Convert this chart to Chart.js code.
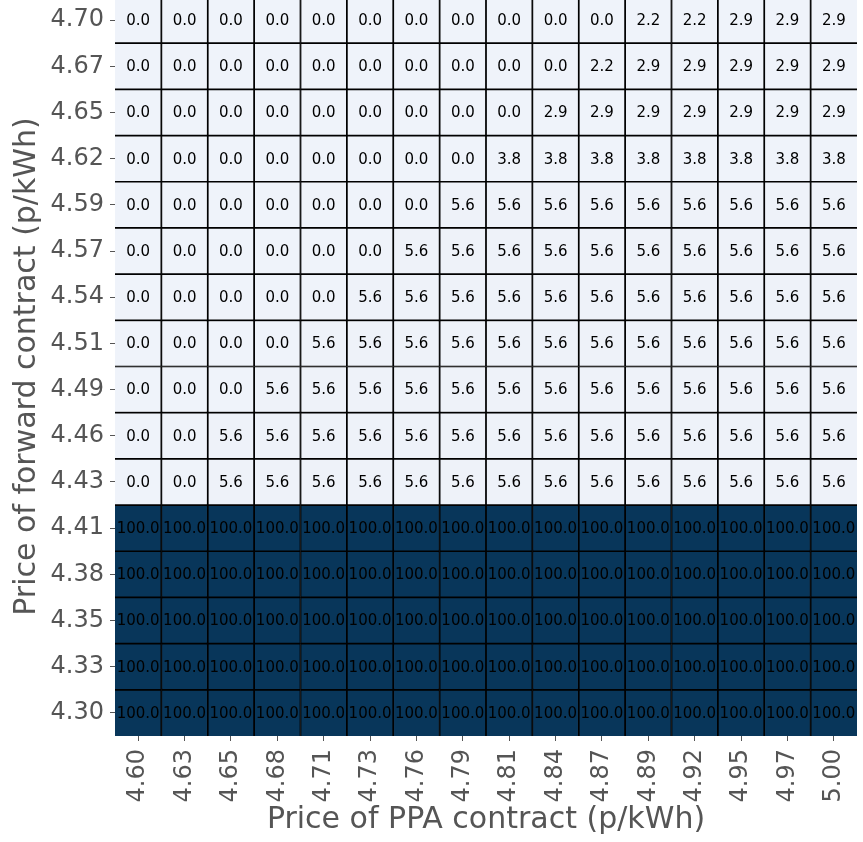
<!DOCTYPE html>
<html>
<head>
<meta charset="utf-8">
<script src="https://cdn.jsdelivr.net/npm/chart.js@4/dist/chart.umd.min.js"></script>
<style>
  html, body { margin: 0; padding: 0; background: #fff; overflow: hidden; }
  #wrap { position: absolute; left: 0; top: -3px; width: 863px; height: 845px; }
</style>
</head>
<body>
<div id="wrap"><canvas id="heat"></canvas></div>
<script>
// x axis: PPA contract price (p/kWh)
const ppaPrices = ['4.60', '4.63', '4.65', '4.68', '4.71', '4.73', '4.76', '4.79',
                   '4.81', '4.84', '4.87', '4.89', '4.92', '4.95', '4.97', '5.00'];
// y axis: forward contract price (p/kWh), top row first
const forwardPrices = ['4.70', '4.67', '4.65', '4.62', '4.59', '4.57', '4.54', '4.51',
                       '4.49', '4.46', '4.43', '4.41', '4.38', '4.35', '4.33', '4.30'];

// cell values, one row per forward price (top row first)
const row470 = [0, 0, 0, 0, 0, 0, 0, 0, 0, 0, 0, 2.2, 2.2, 2.9, 2.9, 2.9];
const row467 = [0, 0, 0, 0, 0, 0, 0, 0, 0, 0, 2.2, 2.9, 2.9, 2.9, 2.9, 2.9];
const row465 = [0, 0, 0, 0, 0, 0, 0, 0, 0, 2.9, 2.9, 2.9, 2.9, 2.9, 2.9, 2.9];
const row462 = [0, 0, 0, 0, 0, 0, 0, 0, 3.8, 3.8, 3.8, 3.8, 3.8, 3.8, 3.8, 3.8];
const row459 = [0, 0, 0, 0, 0, 0, 0, 5.6, 5.6, 5.6, 5.6, 5.6, 5.6, 5.6, 5.6, 5.6];
const row457 = [0, 0, 0, 0, 0, 0, 5.6, 5.6, 5.6, 5.6, 5.6, 5.6, 5.6, 5.6, 5.6, 5.6];
const row454 = [0, 0, 0, 0, 0, 5.6, 5.6, 5.6, 5.6, 5.6, 5.6, 5.6, 5.6, 5.6, 5.6, 5.6];
const row451 = [0, 0, 0, 0, 5.6, 5.6, 5.6, 5.6, 5.6, 5.6, 5.6, 5.6, 5.6, 5.6, 5.6, 5.6];
const row449 = [0, 0, 0, 5.6, 5.6, 5.6, 5.6, 5.6, 5.6, 5.6, 5.6, 5.6, 5.6, 5.6, 5.6, 5.6];
const row446 = [0, 0, 5.6, 5.6, 5.6, 5.6, 5.6, 5.6, 5.6, 5.6, 5.6, 5.6, 5.6, 5.6, 5.6, 5.6];
const row443 = [0, 0, 5.6, 5.6, 5.6, 5.6, 5.6, 5.6, 5.6, 5.6, 5.6, 5.6, 5.6, 5.6, 5.6, 5.6];
const row441 = [100, 100, 100, 100, 100, 100, 100, 100, 100, 100, 100, 100, 100, 100, 100, 100];
const row438 = [100, 100, 100, 100, 100, 100, 100, 100, 100, 100, 100, 100, 100, 100, 100, 100];
const row435 = [100, 100, 100, 100, 100, 100, 100, 100, 100, 100, 100, 100, 100, 100, 100, 100];
const row433 = [100, 100, 100, 100, 100, 100, 100, 100, 100, 100, 100, 100, 100, 100, 100, 100];
const row430 = [100, 100, 100, 100, 100, 100, 100, 100, 100, 100, 100, 100, 100, 100, 100, 100];

const rows = [row470, row467, row465, row462, row459, row457, row454, row451,
              row449, row446, row443, row441, row438, row435, row433, row430];

const FONT = "'DejaVu Sans', sans-serif";
const GREY = '#555555';
const LIGHT = [239, 243, 250];
const DARK  = [8, 54, 90];
const nRows = forwardPrices.length;
const nCols = ppaPrices.length;

function cellColor(v) {
  const t = Math.pow(v / 100, 2);
  const c = LIGHT.map((l, i) => Math.round(l + (DARK[i] - l) * t));
  return `rgb(${c[0]},${c[1]},${c[2]})`;
}

// one floating-bar dataset per row; row r spans [yi, yi+1] on the y scale
const datasets = rows.map((vals, r) => {
  const yi = nRows - 1 - r;
  return {
    label: forwardPrices[r],
    data: ppaPrices.map((p, c) => ({ x: p, y: [yi, yi + 1], v: vals[c] })),
    backgroundColor: ctx => cellColor(ctx.raw.v),
    borderColor: '#000',
    borderSkipped: false,
    borderWidth: ctx => ({
      left:   ctx.dataIndex === 0 ? 0 : 1.2,
      right:  ctx.dataIndex === nCols - 1 ? 0 : 1.2,
      top:    r === 0 ? 0 : 1.2,
      bottom: r === nRows - 1 ? 0 : 1.2,
    }),
    barPercentage: 1,
    categoryPercentage: 1,
    grouped: false,
  };
});

// writes the value in the middle of each cell
const cellLabels = {
  id: 'cellLabels',
  afterDatasetsDraw(chart) {
    const { ctx } = chart;
    ctx.save();
    ctx.font = `15px ${FONT}`;
    ctx.textAlign = 'center';
    ctx.textBaseline = 'middle';
    ctx.fillStyle = '#000';
    chart.data.datasets.forEach((ds, i) => {
      chart.getDatasetMeta(i).data.forEach((bar, j) => {
        const { x, y, base } = bar.getProps(['x', 'y', 'base'], true);
        ctx.fillText(ds.data[j].v.toFixed(1), x, (y + base) / 2 + 1);
      });
    });
    ctx.restore();
  },
};

// drop the padding Chart.js reserves for edge tick labels
function noPad(scale) {
  scale.paddingTop = 0;
  scale.paddingBottom = 0;
  scale.paddingLeft = 0;
  scale.paddingRight = 0;
}

new Chart(document.getElementById('heat'), {
  type: 'bar',
  data: { labels: ppaPrices, datasets },
  plugins: [cellLabels],
  options: {
    responsive: true,
    maintainAspectRatio: false,
    animation: false,
    layout: { padding: { top: 0, right: 6, left: 0, bottom: 0 } },
    plugins: { legend: { display: false }, tooltip: { enabled: false } },
    scales: {
      x: {
        type: 'category',
        offset: true,
        border: { display: false },
        grid: { offset: false, drawOnChartArea: false, drawTicks: true, tickLength: 5, color: GREY },
        ticks: {
          autoSkip: false, maxRotation: 90, minRotation: 90, padding: 8,
          color: GREY, font: { family: FONT, size: 24 },
        },
        title: {
          display: true, text: 'Price of PPA contract (p/kWh)',
          color: GREY, font: { family: FONT, size: 30 }, padding: { top: 4 },
        },
        afterFit(scale) { scale.height = 106; noPad(scale); },
      },
      y: {
        type: 'linear',
        min: 0,
        max: nRows,
        border: { display: false },
        grid: { drawOnChartArea: false, drawTicks: true, tickLength: 5, color: GREY },
        afterBuildTicks(scale) {
          scale.ticks = forwardPrices.map((p, r) => ({ value: nRows - 1 - r + 0.5 }));
        },
        ticks: {
          autoSkip: false, padding: 6, color: GREY, font: { family: FONT, size: 24 },
          callback: v => forwardPrices[nRows - 1 - Math.floor(v)],
        },
        title: {
          display: true, text: 'Price of forward contract (p/kWh)',
          color: GREY, font: { family: FONT, size: 30 }, padding: { top: 9 },
        },
        afterFit(scale) { scale.width = 115; noPad(scale); },
      },
    },
  },
});
</script>
</body>
</html>
